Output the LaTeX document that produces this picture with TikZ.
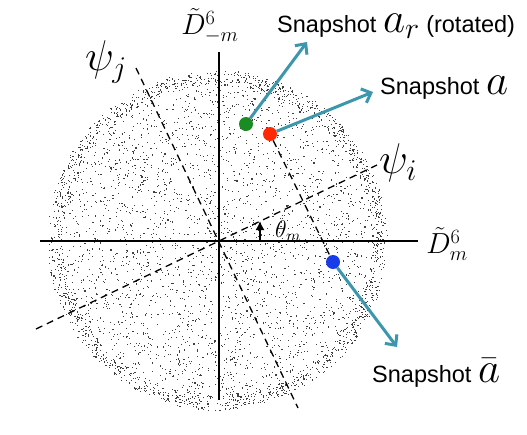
\documentclass[tikz,border=0pt]{standalone}
\usepackage{fix-cm}
\usepackage[no-math]{fontspec}
\setmainfont{Liberation Sans}
\usetikzlibrary{arrows.meta}
\definecolor{arrc}{RGB}{60,150,172}
\definecolor{gdot}{RGB}{25,140,35}
\definecolor{rdot}{RGB}{255,40,5}
\definecolor{bdot}{RGB}{25,60,235}
\tikzset{
  axis/.style={line width=1.3pt,black},
  dashax/.style={line width=1.3pt,black,dash pattern=on 7pt off 5pt},
  snaparrow/.style={line width=3pt,arrc,-{Straight Barb[length=8pt,width=15pt,line width=3pt]}},
  dotn/.style={circle,inner sep=0pt,minimum size=14pt},
  speck/.style={fill=black!75},
  snaplab/.style={anchor=base west,inner sep=0pt,font=\fontsize{23.5}{26}\selectfont},
  axlab/.style={inner sep=0pt,font=\fontsize{29}{32}\selectfont},
  psilab/.style={inner sep=0pt,font=\fontsize{43}{46}\selectfont}
}
\newcommand{\bigmath}[1]{{\fontsize{43}{43}\selectfont$#1$}}
\begin{document}
\begin{tikzpicture}[x=1pt,y=-1pt]
\useasboundingbox (0,0) rectangle (527,434);
% scattered points
\pgfmathsetseed{4321}
\foreach \k in {1,...,3000}{
  \pgfmathsetmacro{\rr}{168*sqrt(rnd)}
  \pgfmathsetmacro{\aa}{360*rnd}
  \fill[speck,shift={(217,240)}] (\aa:\rr) rectangle +(1.1,1.1);
}
\foreach \k in {1,...,1300}{
  \pgfmathsetmacro{\rr}{170*(0.91+0.09*rnd)}
  \pgfmathsetmacro{\aa}{360*rnd}
  \fill[speck,shift={(217,240)}] (\aa:\rr) rectangle +(1.1,1.1);
}
% coordinates
\coordinate (O) at (219,241);
\coordinate (xl) at (40,241);
\coordinate (xr) at (418,241);
\coordinate (yt) at (219,52);
\coordinate (yb) at (219,400);
\coordinate (pj1) at (136,68);
\coordinate (pj2) at (298,408);
\coordinate (pi1) at (36,329);
\coordinate (pi2) at (377,165);
\coordinate (th1) at (260,241);
\coordinate (th2) at (260,221);
% axes
\draw[axis] (xl) -- (xr);
\draw[axis] (yt) -- (yb);
\draw[dashax] (pj1) -- (pj2);
\draw[dashax] (pi1) -- (pi2);
\draw[line width=1.5pt,-{Latex[length=9pt,width=9pt]}] (th1) -- (th2);
% dots
\node[dotn,fill=gdot] (g) at (246,124) {};
\node[dotn,fill=rdot] (r) at (270,134) {};
\node[dotn,fill=bdot] (b) at (333,262) {};
\draw[dashax] (r) -- (b);
% labels
\node[axlab] (dy) at (210,26) {$\tilde{D}^{6}_{-m}$};
\node[axlab] (dx) at (447,244) {$\tilde{D}^{6}_{m}$};
\node[psilab] (pj) at (106,62) {$\psi_j$};
\node[psilab] (pi) at (398,163) {$\psi_i$};
\node[inner sep=0pt,font=\fontsize{24}{26}\selectfont] (th) at (288,231) {$\theta_m$};
\node[snaplab] (la1) at (277,32) {Snapshot \bigmath{a_{r}} (rotated)};
\node[snaplab] (la2) at (380,94) {Snapshot \bigmath{a}};
\node[snaplab] (la3) at (372,382) {Snapshot \bigmath{\bar{a}}};
% arrows
\coordinate (e1) at (307,42);
\coordinate (e2) at (373,92);
\coordinate (e3) at (397,347);
\draw[snaparrow] (g) -- (e1);
\draw[snaparrow] (r) -- (e2);
\draw[snaparrow] (b) -- (e3);
\end{tikzpicture}
\end{document}
